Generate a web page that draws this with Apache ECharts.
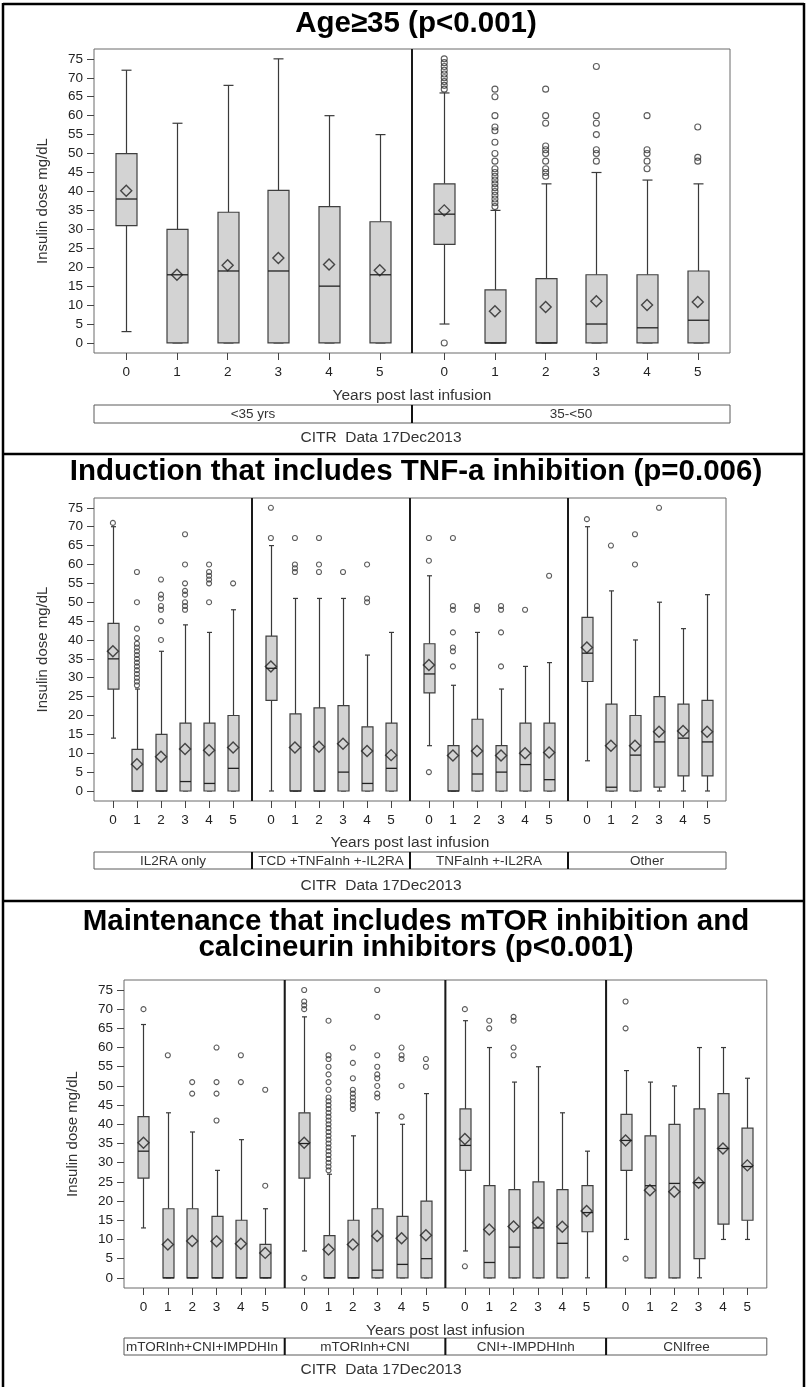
<!DOCTYPE html>
<html><head><meta charset="utf-8">
<script src="https://cdn.jsdelivr.net/npm/echarts@6/dist/echarts.min.js"></script>
<style>html,body{margin:0;padding:0;background:#fff}#c{width:807px;height:1387px}</style>
</head><body><div id="c"></div>
<script>
// ---------------- data ----------------
const years = [0, 1, 2, 3, 4, 5];
const yTicks = [0, 5, 10, 15, 20, 25, 30, 35, 40, 45, 50, 55, 60, 65, 70, 75];
const titles = [
  'Age≥35 (p<0.001)',
  'Induction that includes TNF-a inhibition (p=0.006)',
  'Maintenance that includes mTOR inhibition and\ncalcineurin inhibitors (p<0.001)'
];
const yAxisName = 'Insulin dose mg/dL';
const xAxisName = 'Years post last infusion';
const sourceNote = 'CITR  Data 17Dec2013';

const ageGroups = ['<35 yrs', '35-<50'];
const inductionGroups = ['IL2RA only', 'TCD +TNFaInh +-IL2RA', 'TNFaInh +-IL2RA', 'Other'];
const maintenanceGroups = ['mTORInh+CNI+IMPDHInh', 'mTORInh+CNI', 'CNI+-IMPDHInh', 'CNIfree'];

// box stats per year: [min whisker, Q1, median, Q3, max whisker]
const age35Box = [[3,31,38,50,72],[0,0,18,30,58],[0,0,19,34.5,68],[0,0,19,40.3,75],[0,0,15,36,60],[0,0,18,32,55]];
const age35Mean = [40.2,18,20.5,22.4,20.7,19.2];
const age35Out = [[],[],[],[],[],[]];

const age50Box = [[5,26,34,42,66],[0,0,0,14,35],[0,0,0,17,42],[0,0,5,18,45],[0,0,4,18,43],[0,0,6,19,42]];
const age50Mean = [35,8.4,9.5,11,10,10.8];
const age50Out = [
  [75,74,73,72,71,70,69,68,67,0],
  [67,65,60,57,56,53,50,48,46,45,44,43,42,41,40,39,38,37,36],
  [67,60,58,52,51,50,48,46,45,44],
  [73,60,58,55,51,50,48],
  [60,51,50,48,46],
  [57,49,48]
];

const il2raBox = [[14,27,35,44.4,70],[0,0,0,11,27],[0,0,0,15,37],[0,0,2.5,18,44],[0,0,2,18,42],[0,0,6,20,48]];
const il2raMean = [37,7.1,9.1,11.1,10.8,11.5];
const il2raOut = [
  [71],
  [58,50,43,40.5,39,38,37,36,35,34,33,32,31,30,29,28],
  [56,52,51,49,48,45,40],
  [68,60,55,53,52,50,49,48],
  [60,58,57,56,55,50],
  [55]
];

const tcdBox = [[0,24,32.5,41,65],[0,0,0,20.4,51],[0,0,0,22,51],[0,0,5,22.6,51],[0,0,2,17,36],[0,0,6,18,42]];
const tcdMean = [33,11.5,11.7,12.5,10.6,9.5];
const tcdOut = [[75,67],[67,60,59,58],[67,60,58],[58],[60,51,50],[]];

const tnfBox = [[12,26,31,39,57],[0,0,0,12,28],[0,0,4.5,19,42],[0,0,5,12,27],[0,0,7,18,33],[0,0,3,18,34]];
const tnfMean = [33.4,9.4,10.6,9.4,10,10.2];
const tnfOut = [[67,61,5],[67,49,48,42,38,37,33],[49,48],[49,48,42,33],[48],[57]];

const otherBox = [[8,29,36.5,46,70],[0,0,1,23,53],[0,0,9.5,20,40],[0,1,13,25,50],[0,4,14,23,43],[0,4,13,24,52]];
const otherMean = [38,12,12,15.7,15.9,15.7];
const otherOut = [[72],[65],[68,60],[75],[],[]];

const triBox = [[13,26,33,42,66],[0,0,0,18,43],[0,0,0,18,38],[0,0,0,16,28],[0,0,0,15,36],[0,0,0,8.7,18]];
const triMean = [35.2,8.7,9.6,9.5,8.9,6.5];
const triOut = [[70],[58],[51,48],[60,51,48,41],[58,51],[49,24]];

const mtorCniBox = [[7,26,35,43,68],[0,0,0,11,27],[0,0,0,15,37],[0,0,2,18,43],[0,0,3.5,16,40],[0,0,5,20,48]];
const mtorCniMean = [35.2,7.4,8.7,10.9,10.3,11.1];
const mtorCniOut = [
  [75,72,71,70,0],
  [67,58,57,55,53,51,49,47,46,45,44,43,42,41,40,39,38,37,36,35,34,33,32,31,30,29,28],
  [60,56,52,49,48,47,46,45,44],
  [75,68,58,55,53,52,50,48,47],
  [60,58,57,50,42],
  [57,55]
];

const cniBox = [[7,28,34.5,44,67],[0,0,4,24,60],[0,0,8,23,51],[0,0,13,25,55],[0,0,9,23,43],[0,12,17,24,33]];
const cniMean = [36.2,12.6,13.4,14.4,13.3,17.4];
const cniOut = [[70,3],[67,65],[68,67,60,58],[],[],[]];

const cniFreeBox = [[10,28,35.8,42.6,54],[0,0,24,37,51],[0,0,24.6,40,50],[0,5,24.8,44,60],[10,14,33.7,48,60],[10,15,29,39,52]];
const cniFreeMean = [35.8,22.8,22.4,24.8,33.7,29.3];
const cniFreeOut = [[72,65,5],[],[],[],[],[]];

// ---------------- layout ----------------
const FONT = '"Liberation Sans", Arial, Helvetica, sans-serif';
const panels = [
  { title: titles[0], titleY: 24, groups: ageGroups,
    box: [age35Box, age50Box], mean: [age35Mean, age50Mean], out: [age35Out, age50Out],
    top: 49, height: 304, left: 94, subW: 318, pad: 0.636, boxW: 21, capW: 10, outSize: 6,
    yNameX: 43, xNameY: 396, gbY: 405, gbH: 18, noteY: 438 },
  { title: titles[1], titleY: 472, groups: inductionGroups,
    box: [il2raBox, tcdBox, tnfBox, otherBox], mean: [il2raMean, tcdMean, tnfMean, otherMean],
    out: [il2raOut, tcdOut, tnfOut, otherOut],
    top: 498, height: 303, left: 94, subW: 158, pad: 0.786, boxW: 11, capW: 5, outSize: 5,
    yNameX: 43, xNameY: 843, gbY: 852, gbH: 17, noteY: 886 },
  { title: titles[2], titleY: 935, groups: maintenanceGroups,
    box: [triBox, mtorCniBox, cniBox, cniFreeBox], mean: [triMean, mtorCniMean, cniMean, cniFreeMean],
    out: [triOut, mtorCniOut, cniOut, cniFreeOut],
    top: 980, height: 308, left: 124, subW: 160.7, pad: 0.8, boxW: 11, capW: 5, outSize: 5,
    yNameX: 73, xNameY: 1331, gbY: 1338, gbH: 17, noteY: 1370 }
];

const measureCtx = document.createElement('canvas').getContext('2d');
function textWidth(t, font) { measureCtx.font = font; return measureCtx.measureText(t).width; }

function makeBox(boxW, capW) {
  return function (params, api) {
    const x = api.value(0);
    const pMin = api.coord([x, api.value(1)]);
    const pQ1 = api.coord([x, api.value(2)]);
    const pMed = api.coord([x, api.value(3)]);
    const pQ3 = api.coord([x, api.value(4)]);
    const pMax = api.coord([x, api.value(5)]);
    const cx = Math.round(pMin[0]) + 0.5;
    const ls = { stroke: '#3a3a3a', lineWidth: 1.2, fill: null };
    const h = boxW / 2;
    return { type: 'group', children: [
      { type: 'line', shape: { x1: cx, y1: pQ3[1], x2: cx, y2: pMax[1] }, style: ls },
      { type: 'line', shape: { x1: cx, y1: pQ1[1], x2: cx, y2: pMin[1] }, style: ls },
      { type: 'line', shape: { x1: cx - capW / 2, y1: pMax[1], x2: cx + capW / 2, y2: pMax[1] }, style: ls },
      { type: 'line', shape: { x1: cx - capW / 2, y1: pMin[1], x2: cx + capW / 2, y2: pMin[1] }, style: ls },
      { type: 'rect', shape: { x: cx - h, y: pQ3[1], width: boxW, height: pQ1[1] - pQ3[1] },
        style: { fill: '#d3d3d3', stroke: '#3f3f3f', lineWidth: 1.2 } },
      { type: 'line', shape: { x1: cx - h, y1: pMed[1], x2: cx + h, y2: pMed[1] },
        style: { stroke: '#222', lineWidth: 1.3, fill: null } }
    ]};
  };
}

const grids = [], xAxes = [], yAxes = [], series = [], graphics = [];
function txt(x, y, text, font, opts) {
  const o = Object.assign({ align: 'center', vAlign: 'middle', fill: '#222' }, opts || {});
  const el = { type: 'text', x: x, y: y, silent: true, z: 100,
    style: { text: text, font: font, fill: o.fill, align: o.align, verticalAlign: o.vAlign,
             textAlign: o.align, textVerticalAlign: o.vAlign } };
  if (o.rotation) el.rotation = o.rotation;
  if (o.lineHeight) el.style.lineHeight = o.lineHeight;
  if (o.width) { el.style.width = o.width; el.style.overflow = 'truncate'; el.style.ellipsis = ''; }
  return el;
}

panels.forEach(function (p) {
  const n = p.groups.length;
  const right = p.left + n * p.subW;
  p.groups.forEach(function (g, k) {
    const gi = grids.length;
    const gl = p.left + k * p.subW;
    grids.push({ left: gl, top: p.top, width: p.subW, height: p.height, show: true,
      borderColor: '#6a6a6a', borderWidth: 1, backgroundColor: 'rgba(0,0,0,0)',
      containLabel: false, outerBoundsMode: 'none' });
    xAxes.push({ type: 'value', gridIndex: gi, min: -p.pad, max: 5 + p.pad, position: 'bottom',
      splitLine: { show: false }, axisLine: { show: false, onZero: false },
      axisTick: { show: true, length: 7, customValues: years, lineStyle: { color: '#444', width: 1 } },
      axisLabel: { show: true, customValues: years, margin: 12, color: '#222', fontSize: 13.5, fontFamily: FONT } });
    yAxes.push({ type: 'value', gridIndex: gi, min: -2.65, max: 77.6, position: 'left',
      splitLine: { show: false }, axisLine: { show: false, onZero: false },
      axisTick: { show: k === 0, length: 7, customValues: yTicks, lineStyle: { color: '#444', width: 1 } },
      axisLabel: { show: k === 0, customValues: yTicks, margin: 11, color: '#222', fontSize: 13.5, fontFamily: FONT } });
    series.push({ type: 'custom', xAxisIndex: gi, yAxisIndex: gi, silent: true, z: 2,
      renderItem: makeBox(p.boxW, p.capW),
      data: p.box[k].map(function (b, i) { return [years[i]].concat(b); }),
      encode: { x: 0, y: [1, 2, 3, 4, 5] } });
    series.push({ type: 'scatter', xAxisIndex: gi, yAxisIndex: gi, silent: true, z: 4,
      symbol: 'diamond', symbolSize: 11,
      itemStyle: { color: 'rgba(0,0,0,0)', borderColor: '#222', borderWidth: 1.4 },
      data: p.mean[k].map(function (m, i) { return [years[i], m]; }) });
    const outData = [];
    p.out[k].forEach(function (arr, i) { arr.forEach(function (v) { outData.push([years[i], v]); }); });
    series.push({ type: 'scatter', xAxisIndex: gi, yAxisIndex: gi, silent: true, z: 3,
      symbol: 'circle', symbolSize: p.outSize,
      itemStyle: { color: 'rgba(0,0,0,0)', borderColor: '#333', borderWidth: 1.1 },
      data: outData });
    if (k > 0) {
      graphics.push({ type: 'line', silent: true, z: 50,
        shape: { x1: gl, y1: p.top, x2: gl, y2: p.top + p.height },
        style: { stroke: '#1a1a1a', lineWidth: 2 } });
    }
    graphics.push({ type: 'rect', silent: true, z: 40,
      shape: { x: gl, y: p.gbY, width: p.subW, height: p.gbH },
      style: { fill: '#fff', stroke: '#5a5a5a', lineWidth: 1 } });
    if (k > 0) {
      graphics.push({ type: 'line', silent: true, z: 45,
        shape: { x1: gl, y1: p.gbY, x2: gl, y2: p.gbY + p.gbH },
        style: { stroke: '#111', lineWidth: 2 } });
    }
    const gFont = '13.5px ' + FONT;
    if (textWidth(g, gFont) > p.subW - 4) {
      graphics.push(txt(gl + 2, p.gbY + p.gbH / 2 + 0.5, g, gFont, { align: 'left', fill: '#333', width: p.subW - 3 }));
    } else {
      graphics.push(txt(gl + p.subW / 2, p.gbY + p.gbH / 2 + 0.5, g, gFont, { fill: '#333' }));
    }
  });
  graphics.push(txt(416, p.titleY, p.title, 'bold 29.5px ' + FONT, { fill: '#000', lineHeight: 26 }));
  graphics.push(txt(p.yNameX, p.top + p.height / 2, yAxisName, '15px ' + FONT, { fill: '#333', rotation: Math.PI / 2 }));
  graphics.push(txt((p.left + right) / 2, p.xNameY, xAxisName, '15.5px ' + FONT, { fill: '#333' }));
  graphics.push(txt(381, p.noteY, sourceNote, '15.5px ' + FONT, { fill: '#333' }));
});

[[3, 4, 804, 4], [3, 454, 804, 454], [3, 901, 804, 901],
 [3, 3, 3, 1387], [804, 3, 804, 1387]].forEach(function (l) {
  graphics.push({ type: 'line', silent: true, z: 60,
    shape: { x1: l[0], y1: l[1], x2: l[2], y2: l[3] }, style: { stroke: '#000', lineWidth: 2.5 } });
});

const chart = echarts.init(document.getElementById('c'), null, { renderer: 'canvas', width: 807, height: 1387 });
chart.setOption({
  backgroundColor: '#fff',
  animation: false,
  textStyle: { fontFamily: FONT },
  grid: grids, xAxis: xAxes, yAxis: yAxes, series: series,
  graphic: { elements: graphics }
});
</script>
</body></html>
